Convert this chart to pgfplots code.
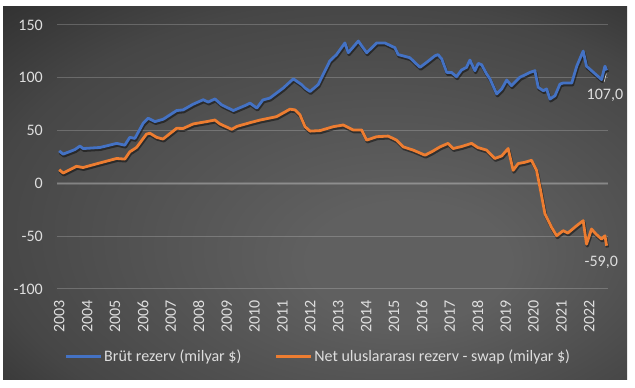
\documentclass[border=0pt]{standalone}
\usepackage{fontspec}
\setmainfont{Carlito}
\usepackage{pgfplots}
\usepackage{pgfplotstable}
\pgfplotsset{compat=1.18}
\definecolor{bgin}{RGB}{96,96,96}
\definecolor{bgmid}{RGB}{70,70,70}
\definecolor{bgout}{RGB}{24,24,24}
\definecolor{txt}{RGB}{222,222,222}
\definecolor{cblue}{RGB}{68,114,196}
\definecolor{corange}{RGB}{237,125,49}
\pgfdeclareradialshading{bgshade}{\pgfpoint{9bp}{-11bp}}{color(0bp)=(bgin); color(8bp)=(bgin); color(30bp)=(bgmid); color(50bp)=(bgout)}

\pgfplotstableread{
t v
2003.00 30.8
2003.14 27.7
2003.56 32
2003.74 35.3
2003.86 33
2004.46 34
2005.06 37.9
2005.35 36.2
2005.53 43.6
2005.71 42.6
2006.01 57
2006.19 61.7
2006.43 58.5
2006.73 60.8
2007.21 69
2007.44 69.6
2007.80 75
2008.16 79.2
2008.34 77
2008.58 80
2008.82 74.4
2009.24 69
2009.72 74.4
2009.84 76
2010.08 71.3
2010.30 79
2010.55 80.8
2011.03 90.3
2011.39 99
2011.69 93.5
2011.81 90.3
2011.99 87
2012.28 93.5
2012.70 116
2012.94 122
2013.24 133
2013.36 123.7
2013.72 134.8
2014.02 123.7
2014.38 133
2014.67 133
2015.03 128.5
2015.15 122
2015.57 119
2015.93 109.9
2016.17 114.6
2016.47 120.9
2016.58 121.9
2016.71 117.8
2016.89 105.1
2017.06 105.1
2017.24 101
2017.42 107.4
2017.60 109.9
2017.72 116.8
2017.90 106.7
2018.02 113.6
2018.14 112.4
2018.32 103.6
2018.44 98.9
2018.68 84.7
2018.86 89.4
2019.04 97.9
2019.21 92.5
2019.51 100.4
2019.87 105.1
2020.05 106.7
2020.17 90.9
2020.35 87.8
2020.47 89.4
2020.59 79.9
2020.77 83
2020.95 94.1
2021.06 95
2021.37 95
2021.55 111
2021.78 125.3
2021.90 111
2022.44 98.3
2022.56 111
2022.62 107
}\brut

\pgfplotstableread{
t v
2003.00 13
2003.14 9.8
2003.62 16.2
2003.85 15
2004.46 19.4
2005.06 23.6
2005.35 23
2005.53 29.9
2005.77 34
2006.13 46.7
2006.25 47.5
2006.49 43.6
2006.72 42
2007.21 52.2
2007.44 52
2007.80 56.3
2008.28 58.5
2008.58 60
2008.76 56.3
2009.18 51.2
2009.37 54
2009.84 57.5
2010.20 60
2010.79 63.2
2011.27 70.3
2011.45 69.6
2011.63 64.9
2011.81 53.7
2011.99 49.5
2012.35 50
2012.82 53.7
2013.18 55.3
2013.54 50.6
2013.84 50.6
2014.02 41
2014.38 44.2
2014.79 44.8
2015.09 41
2015.33 34.6
2015.69 31.5
2016.11 26.7
2016.35 29.9
2016.65 34.6
2016.94 37.9
2017.12 33
2017.43 35
2017.78 37.9
2018.00 34
2018.32 31.5
2018.61 23.6
2018.86 26
2019.09 33
2019.27 12.4
2019.45 18.8
2019.69 20
2019.93 21.9
2020.11 12.4
2020.23 -3.5
2020.41 -28.9
2020.65 -41.7
2020.83 -49.6
2021.06 -44.8
2021.23 -47
2021.55 -40
2021.78 -35.3
2021.90 -57.5
2022.08 -43.2
2022.24 -48
2022.44 -52.8
2022.56 -49.6
2022.62 -59
}\net

\begin{document}
\begin{tikzpicture}[x=1pt,y=1pt]
\useasboundingbox (0,0) rectangle (635,388);
\fill[white] (0,0) rectangle (635,388);
\shade[shading=bgshade] (3,8) rectangle (627,381);
\begin{axis}[
  at={(57pt,99pt)}, anchor=south west,
  scale only axis, width=551pt, height=264pt,
  xmin=2002.92, xmax=2022.67, ymin=-100, ymax=150,
  clip=false,
  axis line style={draw=none},
  major tick length=0pt,
  ymajorgrids,
  grid style={white, opacity=0.2, line width=1pt},
  ytick={-100,-50,0,50,100,150},
  yticklabels={-100,-50,0,50,100,150},
  xtick={2003,2004,2005,2006,2007,2008,2009,2010,2011,2012,2013,2014,2015,2016,2017,2018,2019,2020,2021,2022},
  xticklabels={2003,2004,2005,2006,2007,2008,2009,2010,2011,2012,2013,2014,2015,2016,2017,2018,2019,2020,2021,2022},
  tick label style={text=txt, font=\fontsize{16}{19}\selectfont, inner sep=0pt},
  yticklabel style={anchor=east},
  yticklabel shift=14pt,
  xticklabel style={rotate=90, anchor=east},
  xticklabel shift=11pt,
  extra y ticks={0},
  extra y tick labels={},
  extra y tick style={grid style={white, opacity=0.14, line width=2.5pt}},
  legend columns=2,
  legend style={at={(0.474,-0.254)}, anchor=center, draw=none, fill=none,
    font=\fontsize{16}{19}\selectfont, text=txt,
    nodes={inner sep=1.5pt},
    /tikz/every even column/.append style={column sep=32pt}},
  legend image code/.code={\draw[#1, line width=3pt] (0pt,0pt) -- (35pt,0pt);},
]
\addplot[forget plot, black, opacity=0.45, line width=3.2pt, line join=round, xshift=0.8pt, yshift=-1.8pt] table[x=t,y=v]{\brut};
\addplot[forget plot, black, opacity=0.45, line width=3.2pt, line join=round, xshift=0.8pt, yshift=-1.8pt] table[x=t,y=v]{\net};
\addplot[cblue, line width=2.8pt, line join=round, no marks] table[x=t,y=v]{\brut};
\addplot[corange, line width=2.8pt, line join=round, no marks] table[x=t,y=v]{\net};
\legend{Brüt rezerv (milyar \$), Net uluslararası rezerv - swap (milyar \$)}
\draw[txt, line width=0.6pt] (axis cs:2022.61,104) -- (axis cs:2022.53,96);
\node[text=txt, font=\fontsize{16}{19}\selectfont, inner sep=0pt] at (axis cs:2022.56,83.5) {107,0};
\node[text=txt, font=\fontsize{16}{19}\selectfont, inner sep=0pt] at (axis cs:2022.43,-74.8) {-59,0};
\end{axis}
\end{tikzpicture}
\end{document}
